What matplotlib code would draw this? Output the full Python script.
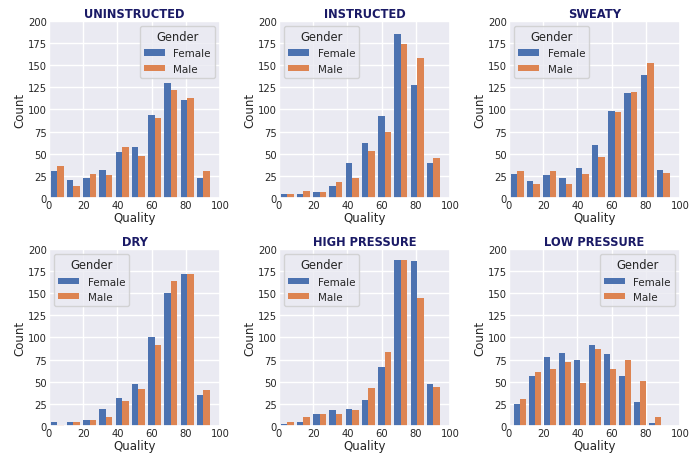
import numpy as np
import matplotlib
matplotlib.use("Agg")
import matplotlib.pyplot as plt
import seaborn as sns

# counts per bin (10 bins each)
titles = ["UNINSTRUCTED", "INSTRUCTED", "SWEATY", "DRY", "HIGH PRESSURE", "LOW PRESSURE"]

female_uninstructed = [31, 20, 23, 32, 52, 58, 94, 130, 111, 23]
male_uninstructed = [36, 13, 27, 26, 57, 47, 90, 122, 113, 30]

female_instructed = [5, 4, 7, 13, 40, 62, 93, 185, 128, 39]
male_instructed = [5, 8, 7, 18, 22, 53, 74, 174, 158, 45]

female_sweaty = [27, 19, 26, 22, 34, 60, 98, 118, 139, 32]
male_sweaty = [30, 16, 30, 16, 27, 46, 97, 120, 152, 28]

female_dry = [4, 5, 7, 19, 32, 48, 100, 150, 172, 35]
male_dry = [1, 4, 7, 10, 28, 42, 91, 164, 172, 41]

female_high = [2, 4, 13, 18, 19, 29, 67, 188, 186, 47]
male_high = [5, 10, 13, 13, 18, 43, 84, 187, 145, 44]

female_low = [25, 56, 78, 83, 74, 92, 81, 56, 27, 3]
male_low = [30, 61, 64, 72, 49, 87, 64, 75, 51, 10]

# bin ranges (min/max of quality in each condition)
bin_ranges = [(0, 95), (0, 95), (0, 95), (0, 95), (0, 95), (2, 90)]
legend_locs = ["upper right", "upper left", "upper left", "upper left", "upper left", "upper right"]

female_all = [female_uninstructed, female_instructed, female_sweaty,
              female_dry, female_high, female_low]
male_all = [male_uninstructed, male_instructed, male_sweaty,
            male_dry, male_high, male_low]

sns.set_theme(style="darkgrid")
pal = sns.color_palette("deep")

fig, axes = plt.subplots(2, 3, figsize=(6.9, 4.56), dpi=100)
plt.subplots_adjust(left=0.071, right=0.9855, top=0.952, bottom=0.0636,
                    wspace=0.345, hspace=0.288)

for ax, title, fem, mal, rng, loc in zip(axes.flat, titles, female_all, male_all,
                                         bin_ranges, legend_locs):
    edges = np.linspace(rng[0], rng[1], 11)
    w = edges[1] - edges[0]
    bw = w * 0.8 / 2
    left = edges[:-1] + w * 0.1
    ax.bar(left, fem, width=bw, align="edge", color=pal[0], label="Female",
           edgecolor="none")
    ax.bar(left + bw, mal, width=bw, align="edge", color=pal[1], label="Male",
           edgecolor="none")
    ax.set_xlim(0, 100)
    ax.set_ylim(0, 200)
    ax.set_xticks([0, 20, 40, 60, 80, 100])
    ax.set_yticks(np.arange(0, 201, 25))
    ax.tick_params(labelsize=7.2, pad=1.5, length=0)
    ax.set_xlabel("Quality", fontsize=8.5, labelpad=0.5)
    ax.set_ylabel("Count", fontsize=8.5, labelpad=1)
    ax.set_title(title, fontsize=8.3, fontweight="bold", color="#1a1a66", pad=3)
    ax.legend(title="Gender", loc=loc, fontsize=7.5, title_fontsize=8.3,
              handlelength=2.0, handleheight=0.6)

plt.savefig("out.png", dpi=100)
plt.close()
